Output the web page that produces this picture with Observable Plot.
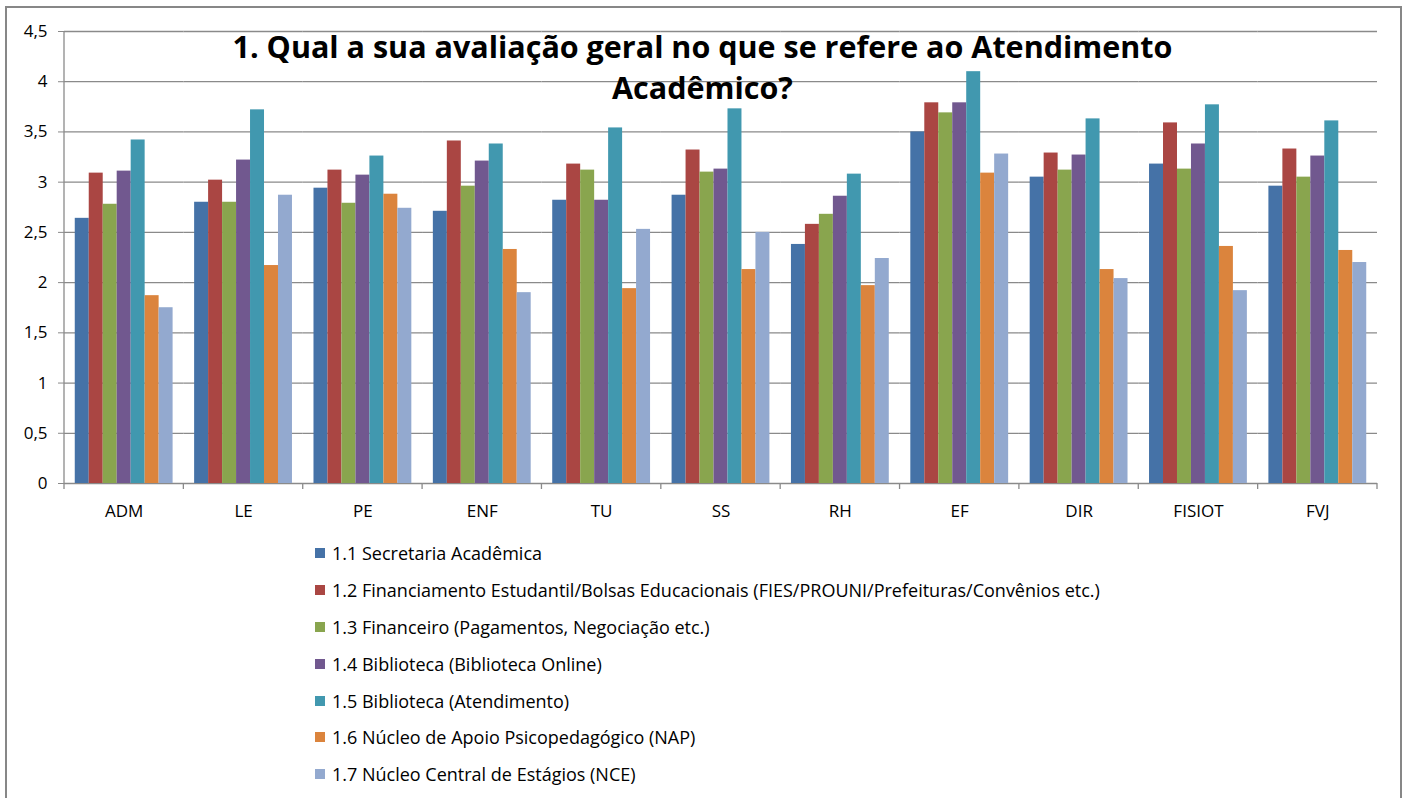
<!DOCTYPE html>
<html>
<head>
<meta charset="utf-8">
<script src="https://cdn.jsdelivr.net/npm/d3@7"></script>
<script src="https://cdn.jsdelivr.net/npm/@observablehq/plot@0.6"></script>
<style>
  html, body { margin: 0; padding: 0; background: #fff; }
  #wrap { position: relative; width: 1405px; height: 798px; overflow: hidden; font-family: "Open Sans", Lato, sans-serif; }
  #frame { position: absolute; left: 5px; top: 6px; width: 1397px; height: 900px; border: 2px solid #878787; box-sizing: border-box; }
  #chart { position: absolute; left: 0; top: 0; }
  #title { position: absolute; left: 0; width: 1405px; top: 26px; text-align: center; font-weight: 700; font-size: 30.5px; line-height: 41px; color: #000; pointer-events: none; }
  #legend { position: absolute; left: 315px; top: 535px; font-size: 18px; color: #000; }
  .item { display: flex; align-items: center; height: 36.8px; white-space: nowrap; }
  .sw { width: 10px; height: 10px; margin-right: 7px; flex: none; }
</style>
</head>
<body>
<div id="wrap">
  <div id="frame"></div>
  <div id="chart"></div>
  <div id="title">1. Qual a sua avaliação geral no que se refere ao Atendimento<br>Acadêmico?</div>
  <div id="legend"></div>
</div>
<script>
const cursos = ["ADM", "LE", "PE", "ENF", "TU", "SS", "RH", "EF", "DIR", "FISIOT", "FVJ"];
const series = [
  "1.1 Secretaria Acadêmica",
  "1.2 Financiamento Estudantil/Bolsas Educacionais (FIES/PROUNI/Prefeituras/Convênios etc.)",
  "1.3 Financeiro (Pagamentos, Negociação etc.)",
  "1.4 Biblioteca (Biblioteca Online)",
  "1.5 Biblioteca (Atendimento)",
  "1.6 Núcleo de Apoio Psicopedagógico (NAP)",
  "1.7 Núcleo Central de Estágios (NCE)"
];
const s11 = [2.64, 2.80, 2.94, 2.71, 2.82, 2.87, 2.38, 3.50, 3.05, 3.18, 2.96];
const s12 = [3.09, 3.02, 3.12, 3.41, 3.18, 3.32, 2.58, 3.79, 3.29, 3.59, 3.33];
const s13 = [2.78, 2.80, 2.79, 2.96, 3.12, 3.10, 2.68, 3.69, 3.12, 3.13, 3.05];
const s14 = [3.11, 3.22, 3.07, 3.21, 2.82, 3.13, 2.86, 3.79, 3.27, 3.38, 3.26];
const s15 = [3.42, 3.72, 3.26, 3.38, 3.54, 3.73, 3.08, 4.10, 3.63, 3.77, 3.61];
const s16 = [1.87, 2.17, 2.88, 2.33, 1.94, 2.13, 1.97, 3.09, 2.13, 2.36, 2.32];
const s17 = [1.75, 2.87, 2.74, 1.90, 2.53, 2.50, 2.24, 3.28, 2.04, 1.92, 2.20];
const yTicks = [0, 0.5, 1, 1.5, 2, 2.5, 3, 3.5, 4, 4.5];
const colors = ["#4572A7", "#AA4643", "#89A54E", "#71588F", "#4198AF", "#DB843D", "#93A9CF"];

const allSeries = [s11, s12, s13, s14, s15, s16, s17];
const data = [];
cursos.forEach((c, i) => {
  allSeries.forEach((s, j) => data.push({curso: c, serie: series[j], valor: s[i]}));
});

const fmt = d => String(d).replace(".", ",");

const chart = Plot.plot({
  width: 1405,
  height: 530,
  marginLeft: 64,
  marginRight: 28,
  marginTop: 31,
  marginBottom: 47,
  style: {fontFamily: "'Open Sans', Lato, sans-serif", fontSize: "17px", color: "#000", background: "transparent", overflow: "visible"},
  fx: {domain: cursos, padding: 0, round: false, label: null, tickSize: 0, tickPadding: 21, axis: "bottom"},
  x: {domain: series, axis: null, round: false, paddingInner: 0, paddingOuter: 0.77},
  y: {domain: [0, 4.5], ticks: yTicks, tickFormat: fmt, label: null, tickSize: 6, tickPadding: 11},
  color: {domain: series, range: colors},
  marks: [
    Plot.ruleY(yTicks, {stroke: "#8a8a8a", strokeWidth: 1.3}),
    Plot.barY(data, {fx: "curso", x: "serie", y: "valor", fill: "serie"})
  ]
});
document.getElementById("chart").appendChild(chart);

// axis line and category boundary ticks, positioned with Plot's own scales
const fxs = chart.scale("fx");
const ys = chart.scale("y");
const band = d3.scaleBand().domain(fxs.domain).range(fxs.range)
  .paddingInner(fxs.paddingInner ?? 0).paddingOuter(fxs.paddingOuter ?? 0).align(fxs.align ?? 0.5);
const yApply = ys.apply ? ys.apply : d3.scaleLinear().domain(ys.domain).range(ys.range);
const y0 = yApply(0), yTop = yApply(4.5);
const g = d3.select(chart).append("g").attr("stroke", "#8a8a8a").attr("stroke-width", 1.3);
const x0 = band(cursos[0]);
g.append("line").attr("x1", x0).attr("x2", x0).attr("y1", yTop).attr("y2", y0 + 6);
cursos.forEach(c => {
  const xr = band(c) + band.bandwidth();
  g.append("line").attr("x1", xr).attr("x2", xr).attr("y1", y0).attr("y2", y0 + 6);
});
d3.select(chart).selectAll("[aria-label='y-axis'] line, [aria-label='y-axis tick'] path").attr("stroke", "#8a8a8a");

// legend
const leg = d3.select("#legend");
series.forEach((s, i) => {
  const it = leg.append("div").attr("class", "item");
  it.append("div").attr("class", "sw").style("background", colors[i]);
  it.append("span").text(s);
});
</script>
</body>
</html>
